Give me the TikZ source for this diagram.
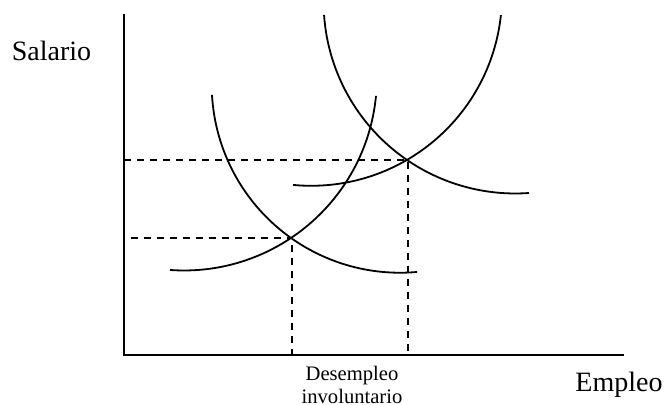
\documentclass[tikz,border=0pt]{standalone}
\usepackage{fontspec}
\setmainfont{Liberation Serif}
\usepackage{tikz}
\usetikzlibrary{calc}

\begin{document}
\begin{tikzpicture}[
      x=0.5pt, y=0.5pt,
      axis/.style={line width=1pt},
      curve/.style={line width=0.9pt},
      guide/.style={line width=0.9pt, dash pattern=on 3.5pt off 3pt},
      axlbl/.style={font=\fontsize{14}{16}\selectfont, inner sep=0pt, anchor=base},
      note/.style={font=\fontsize{10.3}{11.2}\selectfont, inner sep=0pt, align=center}
    ]
    \useasboundingbox (0,0) rectangle (666,405);
    % ---------------- axes ----------------
    \coordinate (O) at (124,50);
    \coordinate (Ytop) at (124,391);
    \coordinate (Xend) at (624,50);
    \draw[axis] (Ytop) -- (O) -- (Xend);
    \node[axlbl] (salario) at (51.5,344.5) {Salario};
    \node[axlbl] (empleo) at (619,13) {Empleo};
    % ---------------- curves ----------------
    \coordinate (cD1) at (400.0,320.55);
    \coordinate (cD2) at (515.3,403.2);
    \coordinate (cS1) at (183.8,327.6);
    \coordinate (cS2) at (311.0,410.2);
    \draw[curve] ($(cD1)+(183.2:188.3)$) arc[start angle=183.2, end angle=275.2, radius=188.3];
    \draw[curve] ($(cD2)+(183.9:191.7)$) arc[start angle=183.9, end angle=274.1, radius=191.7];
    \draw[curve] ($(cS1)+(-94.1:193.1)$) arc[start angle=-94.1, end angle=-5.5, radius=193.1];
    \draw[curve] ($(cS2)+(-95.4:191.0)$) arc[start angle=-95.4, end angle=-6.1, radius=191.0];
    % ---------------- equilibria ----------------
    \coordinate (E1) at (292,167);
    \coordinate (E2) at (408,245);
    \draw[guide] ([xshift=3.25pt]O |- E1) -- (E1) -- (E1 |- O);
    \draw[guide] (O |- E2) -- (E2) -- (E2 |- O);
    \node[note, anchor=north] (desempleo) at (352,39) {Desempleo\\involuntario};
  \end{tikzpicture}
\end{document}
